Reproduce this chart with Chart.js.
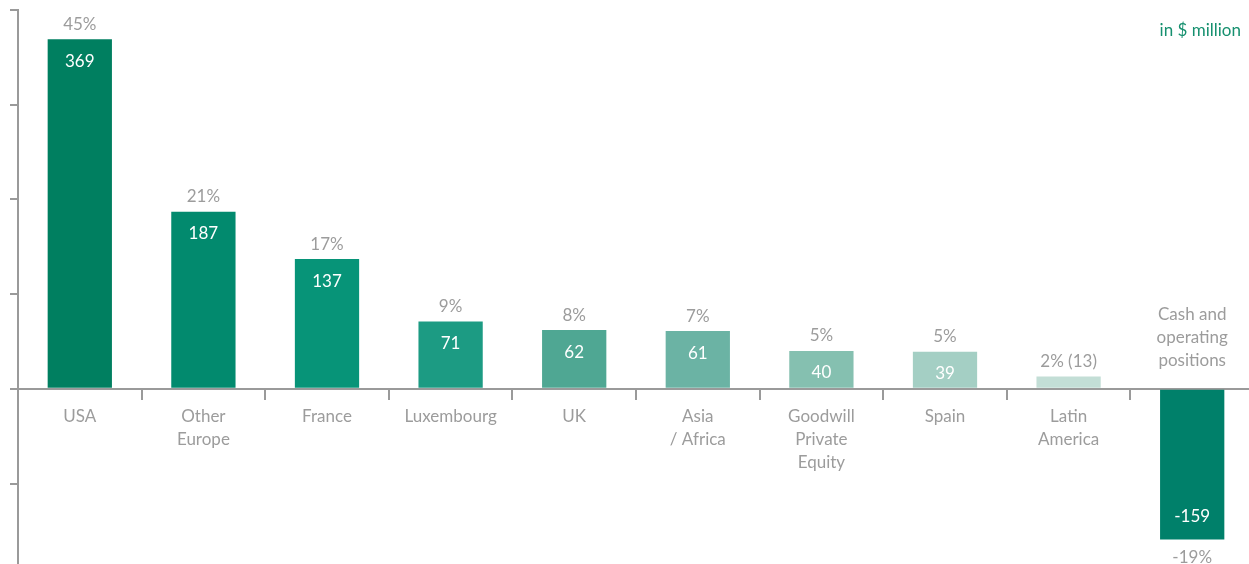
<!DOCTYPE html>
<html>
<head>
<meta charset="utf-8">
<script src="https://cdn.jsdelivr.net/npm/chart.js@4/dist/chart.umd.min.js"></script>
<style>
html,body{margin:0;padding:0;background:#fff;overflow:hidden;}
#wrap{width:1254px;height:564px;}
</style>
</head>
<body>
<div id="wrap"><canvas id="c" width="1254" height="564"></canvas></div>
<script>
const categories = [['USA'],['Other','Europe'],['France'],['Luxembourg'],['UK'],['Asia','/ Africa'],['Goodwill','Private','Equity'],['Spain'],['Latin','America'],['Cash and','operating','positions']];
const values = [369,187,137,71,62,61,40,39,13,-159];
const valueLabels = ['369','187','137','71','62','61','40','39','','-159'];
const shareLabels = ['45%','21%','17%','9%','8%','7%','5%','5%','2% (13)','-19%'];
const barColors = ['#007f60','#028a6e','#079478','#1c9b83','#4fa793','#6bb3a4','#85c0b0','#a4cfc4','#c3ded6','#00806a'];
const yTickValues = [-100,0,100,200,300,400];
const unitLabel = 'in $ million';

const FONT = 'Lato, "Open Sans", sans-serif';
const GRAY = '#9c9c9c';
const AXIS = '#9a9a9a';

const labelPlugin = {
  id: 'labels',
  afterDatasetsDraw(chart) {
    const ctx = chart.ctx;
    const meta = chart.getDatasetMeta(0);
    const yScale = chart.scales.y;
    const zero = yScale.getPixelForValue(0);
    ctx.save();
    ctx.font = '17px ' + FONT;
    ctx.textAlign = 'center';
    ctx.textBaseline = 'middle';
    meta.data.forEach((bar, i) => {
      const v = values[i];
      if (v >= 0) {
        if (valueLabels[i]) { ctx.fillStyle = '#ffffff'; ctx.fillText(valueLabels[i], bar.x, bar.y + 22); }
        ctx.fillStyle = GRAY; ctx.fillText(shareLabels[i], bar.x, bar.y - 15);
      } else {
        if (valueLabels[i]) { ctx.fillStyle = '#ffffff'; ctx.fillText(valueLabels[i], bar.x, bar.y - 23); }
        ctx.fillStyle = GRAY; ctx.fillText(shareLabels[i], bar.x, bar.y + 18);
        const lines = categories[i];
        lines.forEach((t, k) => {
          ctx.fillText(t, bar.x, zero - 28 - 23 * (lines.length - 1 - k));
        });
      }
    });
    ctx.font = '17px ' + FONT;
    ctx.textAlign = 'right';
    ctx.fillStyle = '#16906f';
    ctx.fillText(unitLabel, 1241, 31);
    ctx.restore();
  }
};

new Chart(document.getElementById('c'), {
  type: 'bar',
  data: {
    labels: categories,
    datasets: [{
      data: values,
      backgroundColor: barColors,
      borderWidth: 0,
      barPercentage: 0.52,
      categoryPercentage: 1.0
    }]
  },
  options: {
    responsive: false,
    animation: false,
    layout: { padding: { left: 10, top: 10, right: 0, bottom: 0 } },
    plugins: { legend: { display: false }, tooltip: { enabled: false } },
    scales: {
      x: {
        position: { y: 0 },
        grid: { offset: true, drawOnChartArea: false, drawTicks: true, tickLength: 10, color: AXIS, lineWidth: 2 },
        border: { display: true, color: AXIS, width: 2 },
        ticks: {
          color: GRAY,
          font: { family: FONT, size: 17, lineHeight: 23/17 },
          padding: 6,
          maxRotation: 0,
          autoSkip: false,
          callback: function(val, idx) { return values[idx] < 0 ? '' : categories[idx]; }
        }
      },
      y: {
        min: -185,
        max: 400,
        afterBuildTicks: (scale) => { scale.ticks = yTickValues.map(v => ({ value: v })); },
        grid: { drawOnChartArea: false, drawTicks: true, tickLength: 8, color: AXIS, lineWidth: 2 },
        border: { display: true, color: AXIS, width: 2 },
        ticks: { display: false }
      }
    }
  },
  plugins: [labelPlugin]
});
</script>
</body>
</html>
